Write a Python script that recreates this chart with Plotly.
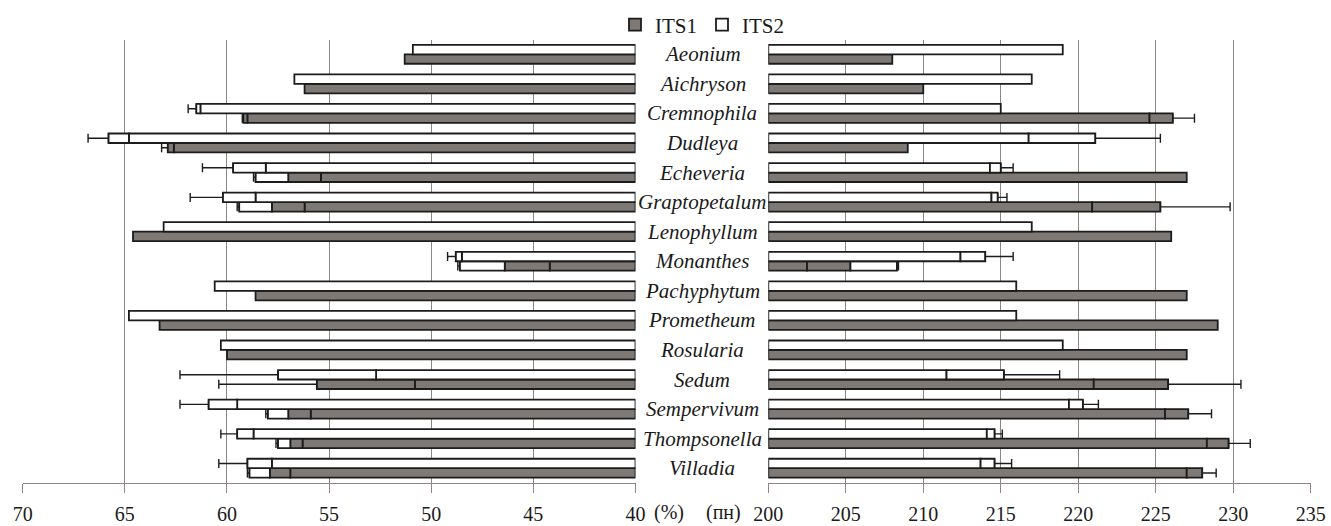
import plotly.graph_objects as go

# Genera (rows, top to bottom)
genera = ["Aeonium", "Aichryson", "Cremnophila", "Dudleya", "Echeveria",
          "Graptopetalum", "Lenophyllum", "Monanthes", "Pachyphytum",
          "Prometheum", "Rosularia", "Sedum", "Sempervivum", "Thompsonella",
          "Villadia"]

# GC content, % — ITS1
gc1_bar = [51.3, 56.2, 59.0, 62.6, 55.4, 56.2, 64.6, 44.2, 58.6, 63.3, 60.0, 50.8, 55.9, 56.3, 56.9]
gc1_box = [None, None, 59.2, 62.9, 57.0, 57.8, None, 46.4, None, None, None, 55.6, 57.0, 56.9, 57.9]
gc1_box2 = [None, None, None, None, 58.6, 59.4, None, 48.6, None, None, None, None, 58.0, 57.5, 58.9]
gc1_whisker = [None, None, 59.25, 63.2, 58.7, 59.5, None, 48.7, None, None, None, 60.4, 58.1, 57.6, 59.0]

# GC content, % — ITS2
gc2_bar = [50.9, 56.7, 61.3, 64.8, 58.1, 58.6, 63.1, 48.5, 60.6, 64.8, 60.3, 52.7, 59.5, 58.7, 57.8]
gc2_box = [None, None, 61.5, 65.8, 59.7, 60.2, None, 48.8, None, None, None, 57.5, 60.9, 59.5, 59.0]
gc2_whisker = [None, None, 61.9, 66.8, 61.2, 61.8, None, 49.2, None, None, None, 62.3, 62.3, 60.3, 60.4]

# Length, bp — ITS1
len1_bar = [208, 210, 224.6, 209, 227, 220.9, 226, 202.5, 227, 229, 227, 221.0, 225.6, 228.3, 227.0]
len1_box = [None, None, 226.1, None, None, 225.3, None, 205.3, None, None, None, 225.8, 227.1, 229.7, 228.0]
len1_box2 = [None, None, None, None, None, None, None, 208.3, None, None, None, None, None, None, None]
len1_whisker = [None, None, 227.5, None, None, 229.8, None, 208.4, None, None, None, 230.5, 228.6, 231.1, 228.9]

# Length, bp — ITS2
len2_bar = [219, 217, 215, 216.8, 214.3, 214.4, 217, 212.4, 216, 216, 219, 211.5, 219.4, 214.1, 213.7]
len2_box = [None, None, None, 221.1, 215.0, 214.8, None, 214.0, None, None, None, 215.2, 220.3, 214.6, 214.6]
len2_whisker = [None, None, None, 225.3, 215.8, 215.4, None, 215.8, None, None, None, 218.8, 221.3, 215.1, 215.7]

GC_TICKS = [70, 65, 60, 55, 50, 45, 40]
LEN_TICKS = [200, 205, 210, 215, 220, 225, 230, 235]

FONT = "Liberation Serif"
GREY = "#7f7975"
EDGE = "#1c1c1c"
GRID = "#8d8682"
TEXT = "#1a1a1a"
W = 0.32          # bar thickness, in category units
N = len(genera)
pos = list(range(N))


def segment(lo, hi):
    base, length = [], []
    for a, b in zip(lo, hi):
        if a is None or b is None:
            base.append(None)
            length.append(None)
        else:
            base.append(a)
            length.append(b - a)
    return base, length


def last_end(*cols):
    out = []
    for vals in zip(*cols):
        v = None
        for x in vals:
            if x is not None:
                v = x
        out.append(v)
    return out


fig = go.Figure()


def add_series(xaxis, start, bar, box, box2, whisker, fill, offset, name, legend):
    common = dict(orientation="h", xaxis=xaxis, yaxis="y", width=W, offset=offset,
                  hoverinfo="skip")
    line = dict(color=EDGE, width=1.8)
    fig.add_trace(go.Bar(y=pos, x=[v - start for v in bar], base=[start] * N,
                         marker=dict(color=fill, line=line), name=name,
                         legendgroup=name, showlegend=legend, **common))
    b, l = segment(bar, box)
    fig.add_trace(go.Bar(y=pos, x=l, base=b, marker=dict(color=fill, line=line),
                         legendgroup=name, showlegend=False, **common))
    if box2 is not None:
        b, l = segment(box, box2)
        fig.add_trace(go.Bar(y=pos, x=l, base=b, marker=dict(color="white", line=line),
                             legendgroup=name, showlegend=False, **common))
    ends = last_end(bar, box, box2) if box2 is not None else last_end(bar, box)
    wx, plus = [], []
    for e, w in zip(ends, whisker):
        if w is None:
            wx.append(None)
            plus.append(None)
        else:
            wx.append(e)
            plus.append(w - e)
    fig.add_trace(go.Scatter(
        x=wx, y=[p + offset + W / 2 for p in pos], xaxis=xaxis, yaxis="y",
        mode="markers", marker=dict(size=2, opacity=0), showlegend=False,
        hoverinfo="skip",
        error_x=dict(type="data", symmetric=False, array=plus, arrayminus=[0] * N,
                     color=EDGE, thickness=1.4, width=4.5)))


# left panel: GC content
add_series("x", 40, gc1_bar, gc1_box, gc1_box2, gc1_whisker, GREY, 0, "ITS1", True)
add_series("x", 40, gc2_bar, gc2_box, None, gc2_whisker, "white", -W, "ITS2", True)
# right panel: length
add_series("x2", 200, len1_bar, len1_box, len1_box2, len1_whisker, GREY, 0, "ITS1", False)
add_series("x2", 200, len2_bar, len2_box, None, len2_whisker, "white", -W, "ITS2", False)

WIDTH, HEIGHT = 1331, 526
axis_common = dict(showgrid=True, gridcolor=GRID, gridwidth=1, showline=True,
                   linecolor=GRID, linewidth=1, ticks="outside", ticklen=9,
                   tickcolor=GRID, tickwidth=1, zeroline=False, automargin=False,
                   tickfont=dict(family=FONT, size=20, color=TEXT),
                   ticklabelstandoff=4)

y_top, y_bot = 39.5, 483.0
fig.update_layout(
    width=WIDTH, height=HEIGHT,
    margin=dict(l=0, r=0, t=0, b=0, pad=0, autoexpand=False),
    paper_bgcolor="white", plot_bgcolor="white",
    barmode="overlay",
    font=dict(family=FONT, color=TEXT),
    xaxis=dict(domain=[22.7 / WIDTH, 635.5 / WIDTH], range=[70, 40],
               tickvals=GC_TICKS, anchor="y", **axis_common),
    xaxis2=dict(domain=[768.3 / WIDTH, 1310.7 / WIDTH], range=[200, 235],
                tickvals=LEN_TICKS, anchor="y", **axis_common),
    yaxis=dict(domain=[1 - y_bot / HEIGHT, 1 - y_top / HEIGHT], range=[N - 0.5, -0.5],
               showticklabels=False, showgrid=False, zeroline=False, showline=False,
               automargin=False),
    legend=dict(orientation="h", x=702 / WIDTH, xanchor="center",
                y=1 - 25 / HEIGHT, yanchor="middle",
                font=dict(family=FONT, size=21, color=TEXT),
                bgcolor="rgba(0,0,0,0)", itemwidth=30, tracegroupgap=0),
)

# genus names between the two panels
for i, g in enumerate(genera):
    fig.add_annotation(x=702 / WIDTH, xref="paper", y=i, yref="y", text=g,
                       showarrow=False, xanchor="center", yanchor="middle",
                       font=dict(family=FONT, size=21, style="italic", color=TEXT))

# unit labels beside the inner tick labels
fig.add_annotation(x=652 / WIDTH, xref="paper", y=0, yref="paper",
                   text="(%)", showarrow=False, xanchor="left", yanchor="bottom",
                   font=dict(family=FONT, size=20, color=TEXT))
fig.add_annotation(x=743 / WIDTH, xref="paper", y=0, yref="paper",
                   text="(пн)", showarrow=False, xanchor="right", yanchor="bottom",
                   font=dict(family=FONT, size=20, color=TEXT))

fig.write_html("out.html")
